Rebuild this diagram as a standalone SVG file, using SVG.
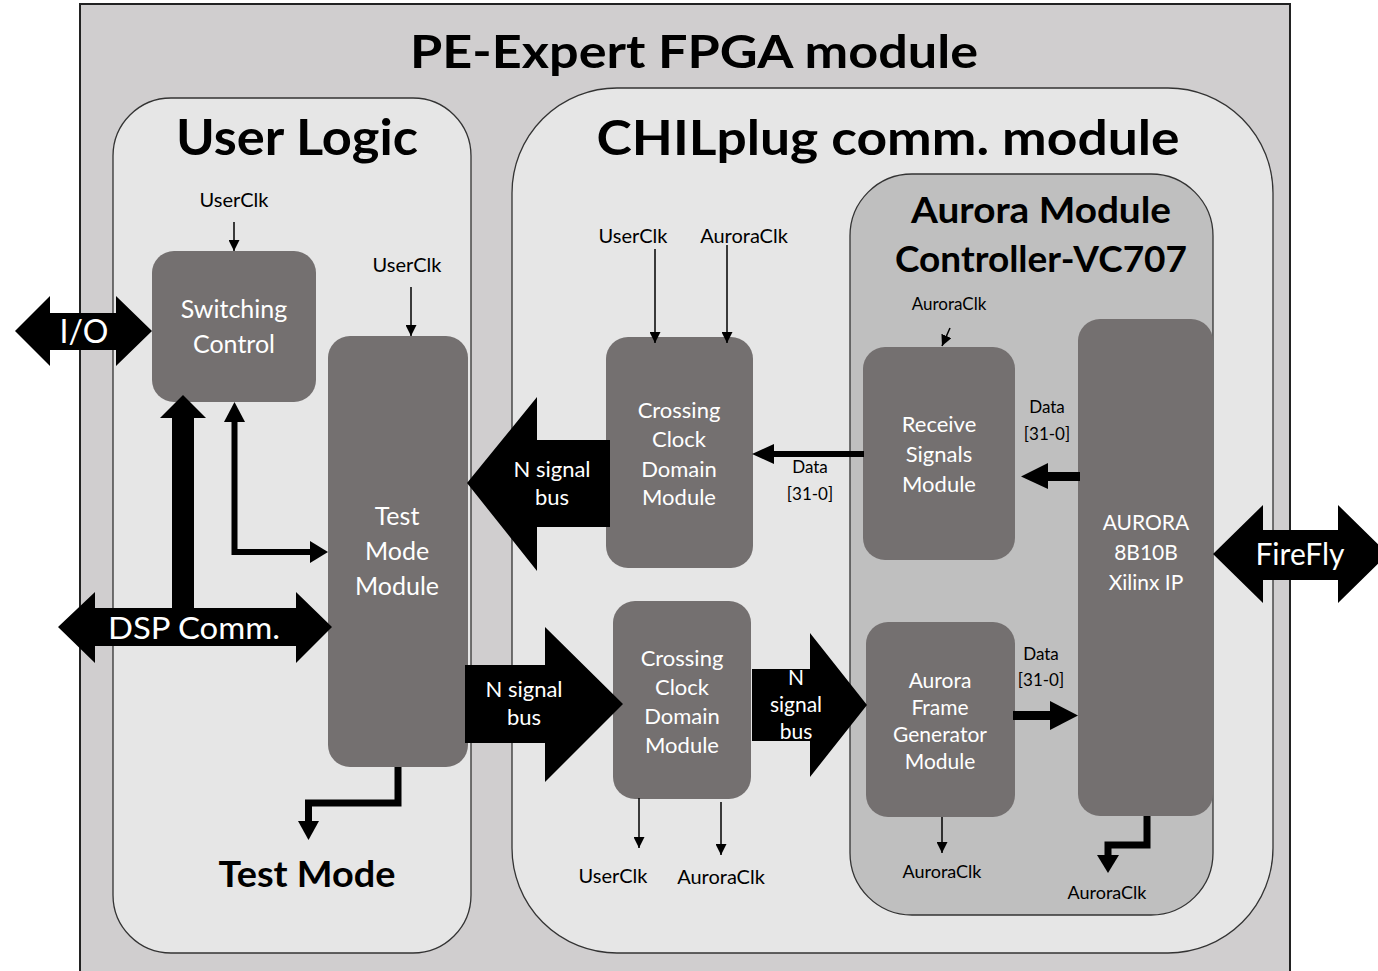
<svg xmlns="http://www.w3.org/2000/svg" width="1378" height="971" viewBox="0 0 1378 971">
<defs>
<marker id="ah" markerUnits="userSpaceOnUse" markerWidth="11" markerHeight="11" refX="11" refY="5.5" orient="auto">
<path d="M0,0 L11,5.5 L0,11 z" fill="#000"/>
</marker>
</defs>
<style>
text{font-family:Lato,"Open Sans","Liberation Sans",sans-serif}
.ttl{font-weight:bold;fill:#000;text-anchor:middle}
.node rect{fill:#747070}
.nl{fill:#fff;text-anchor:middle}
.lbl{fill:#000;text-anchor:middle}
.thin{stroke:#000;stroke-width:1.5;fill:none;marker-end:url(#ah)}
.bar{stroke:#000;fill:none}
.blk{fill:#000}
.wt{fill:#fff;text-anchor:middle}
</style>
<rect width="1378" height="971" fill="#fff"/>
<g id="fpga">
<rect x="80" y="4" width="1210" height="990" fill="#d0cecf" stroke="#222" stroke-width="2"/>
<text class="ttl" x="694" y="68" font-size="46" textLength="568" lengthAdjust="spacingAndGlyphs">PE-Expert FPGA module</text>
</g>
<g id="user-logic">
<rect x="113" y="98" width="358" height="855" rx="58" fill="#e6e6e6" stroke="#333" stroke-width="1.3"/>
<text class="ttl" x="297" y="155" font-size="50" textLength="242" lengthAdjust="spacingAndGlyphs">User Logic</text>
</g>
<g id="chilplug">
<rect x="512" y="88" width="761" height="865" rx="105" fill="#e6e6e6" stroke="#333" stroke-width="1.3"/>
<text class="ttl" x="888" y="155" font-size="48" textLength="583" lengthAdjust="spacingAndGlyphs">CHILplug comm. module</text>
</g>
<g id="aurora-controller">
<rect x="850" y="174" width="363" height="741" rx="62" fill="#bfbfbf" stroke="#333" stroke-width="1.3"/>
<text class="ttl" x="1041" y="223" font-size="37" textLength="260" lengthAdjust="spacingAndGlyphs">Aurora Module</text>
<text class="ttl" x="1041" y="272" font-size="37" textLength="292" lengthAdjust="spacingAndGlyphs">Controller-VC707</text>
</g>

<g id="switching-control" class="node">
<rect x="152" y="251" width="164" height="151" rx="22"/>
<text class="nl" x="234" y="318" font-size="25">Switching</text>
<text class="nl" x="234" y="353" font-size="25">Control</text>
</g>
<g id="test-mode-module" class="node">
<rect x="328" y="336" width="140" height="431" rx="22"/>
<text class="nl" x="397" y="525" font-size="25">Test</text>
<text class="nl" x="397" y="560" font-size="25">Mode</text>
<text class="nl" x="397" y="595" font-size="25">Module</text>
</g>
<g id="ccd-top" class="node">
<rect x="606" y="337" width="147" height="231" rx="22"/>
<text class="nl" x="679" y="418" font-size="22">Crossing</text>
<text class="nl" x="679" y="447" font-size="22">Clock</text>
<text class="nl" x="679" y="477" font-size="22">Domain</text>
<text class="nl" x="679" y="505" font-size="22">Module</text>
</g>
<g id="ccd-bottom" class="node">
<rect x="613" y="601" width="138" height="198" rx="22"/>
<text class="nl" x="682" y="666" font-size="22">Crossing</text>
<text class="nl" x="682" y="695" font-size="22">Clock</text>
<text class="nl" x="682" y="724" font-size="22">Domain</text>
<text class="nl" x="682" y="753" font-size="22">Module</text>
</g>
<g id="receive-signals" class="node">
<rect x="863" y="347" width="152" height="213" rx="22"/>
<text class="nl" x="939" y="432" font-size="22">Receive</text>
<text class="nl" x="939" y="462" font-size="22">Signals</text>
<text class="nl" x="939" y="492" font-size="22">Module</text>
</g>
<g id="aurora-frame-generator" class="node">
<rect x="866" y="622" width="149" height="195" rx="22"/>
<text class="nl" x="940" y="688" font-size="21">Aurora</text>
<text class="nl" x="940" y="715" font-size="21">Frame</text>
<text class="nl" x="940" y="742" font-size="21">Generator</text>
<text class="nl" x="940" y="769" font-size="21">Module</text>
</g>
<g id="aurora-ip" class="node">
<rect x="1078" y="319" width="135" height="497" rx="22"/>
<text class="nl" x="1146" y="530" font-size="21">AURORA</text>
<text class="nl" x="1146" y="560" font-size="21">8B10B</text>
<text class="nl" x="1146" y="590" font-size="21">Xilinx IP</text>
</g>

<g id="connectors">
<!-- I/O -->
<polygon class="blk" points="15,331 50,296 50,313 116,313 116,296 152,331 116,366 116,350 50,350 50,366"/>
<text class="wt" x="84" y="343" font-size="32">I/O</text>
<!-- DSP Comm -->
<polygon class="blk" points="58,627 95,592 95,608 296,608 296,592 332,627 296,663 296,646 95,646 95,663"/>
<text x="108" y="639" font-size="31" fill="#fff" textLength="172" lengthAdjust="spacingAndGlyphs">DSP Comm.</text>
<!-- DSP to Switching vertical -->
<polygon class="blk" points="172,614 172,418 160,418 183,395 206,418 194,418 194,614"/>
<!-- Switching <-> Test Mode elbow -->
<path class="bar" stroke-width="6" d="M234.5,420 V552 H312"/>
<polygon class="blk" points="224,422 234.5,402 245,422"/>
<polygon class="blk" points="310,541 328,552 310,563"/>
<!-- Test Mode output elbow -->
<path class="bar" stroke-width="7" d="M398,767 V803 H308.5 V824"/>
<polygon class="blk" points="298,821 319,821 308.5,840"/>
<text class="ttl" x="307" y="887" font-size="37" textLength="177" lengthAdjust="spacingAndGlyphs">Test Mode</text>
<!-- clocks -->
<text class="lbl" x="234" y="207" font-size="20">UserClk</text>
<line class="thin" x1="234" y1="222" x2="234" y2="251"/>
<text class="lbl" x="407" y="272" font-size="20">UserClk</text>
<line class="thin" x1="411" y1="287" x2="411" y2="336"/>
<text class="lbl" x="633" y="243" font-size="20">UserClk</text>
<line class="thin" x1="655" y1="249" x2="655" y2="343"/>
<text class="lbl" x="744" y="243" font-size="20">AuroraClk</text>
<line class="thin" x1="727" y1="245" x2="727" y2="343"/>
<line class="thin" x1="639" y1="798" x2="639" y2="848"/>
<line class="thin" x1="721" y1="802" x2="721" y2="855"/>
<text class="lbl" x="613" y="883" font-size="20">UserClk</text>
<text class="lbl" x="721" y="884" font-size="20">AuroraClk</text>
<text class="lbl" x="949" y="310" font-size="17">AuroraClk</text>
<line class="thin" x1="950" y1="328" x2="942" y2="346"/>
<line class="thin" x1="942" y1="817" x2="942" y2="853"/>
<text class="lbl" x="942" y="878" font-size="18">AuroraClk</text>
<path class="bar" stroke-width="7" d="M1147,816 V845 H1108 V858"/>
<polygon class="blk" points="1097,855 1119,855 1108,873"/>
<text class="lbl" x="1107" y="899" font-size="18">AuroraClk</text>
<!-- N signal bus top (left) -->
<polygon class="blk" points="467,483 537,397 537,440 610,440 610,527 537,527 537,571"/>
<text class="wt" x="552" y="477" font-size="22">N signal</text>
<text class="wt" x="552" y="505" font-size="22">bus</text>
<!-- N signal bus bottom (right) -->
<polygon class="blk" points="465,665 545,665 545,627 623,704 545,782 545,743 465,743"/>
<text class="wt" x="524" y="697" font-size="22">N signal</text>
<text class="wt" x="524" y="725" font-size="22">bus</text>
<!-- N signal bus to frame generator -->
<polygon class="blk" points="752,669 810,669 810,633 867,705 810,777 810,741 752,741"/>
<text class="wt" x="796" y="685" font-size="21">N</text>
<text class="wt" x="796" y="712" font-size="21">signal</text>
<text class="wt" x="796" y="739" font-size="21">bus</text>
<!-- Data: receive -> ccd top -->
<path class="bar" stroke-width="6" d="M864,454 H772"/>
<polygon class="blk" points="774,444 752,454 774,464"/>
<text class="lbl" x="810" y="473" font-size="17">Data</text>
<text class="lbl" x="810" y="500" font-size="17">[31-0]</text>
<!-- Data: IP -> receive -->
<path class="bar" stroke-width="9" d="M1080,476.5 H1046"/>
<polygon class="blk" points="1048,463 1021,476.5 1048,489"/>
<text class="lbl" x="1047" y="413" font-size="17">Data</text>
<text class="lbl" x="1047" y="440" font-size="17">[31-0]</text>
<!-- Data: frame gen -> IP -->
<path class="bar" stroke-width="9" d="M1013,715.5 H1052"/>
<polygon class="blk" points="1050,701 1078,715.5 1050,730"/>
<text class="lbl" x="1041" y="660" font-size="17">Data</text>
<text class="lbl" x="1041" y="686" font-size="17">[31-0]</text>
<!-- FireFly -->
<polygon class="blk" points="1213,554 1263,505 1263,530 1338,530 1338,505 1388,554 1338,603 1338,580 1263,580 1263,603"/>
<text class="wt" x="1300" y="565" font-size="30">FireFly</text>
</g>
</svg>
